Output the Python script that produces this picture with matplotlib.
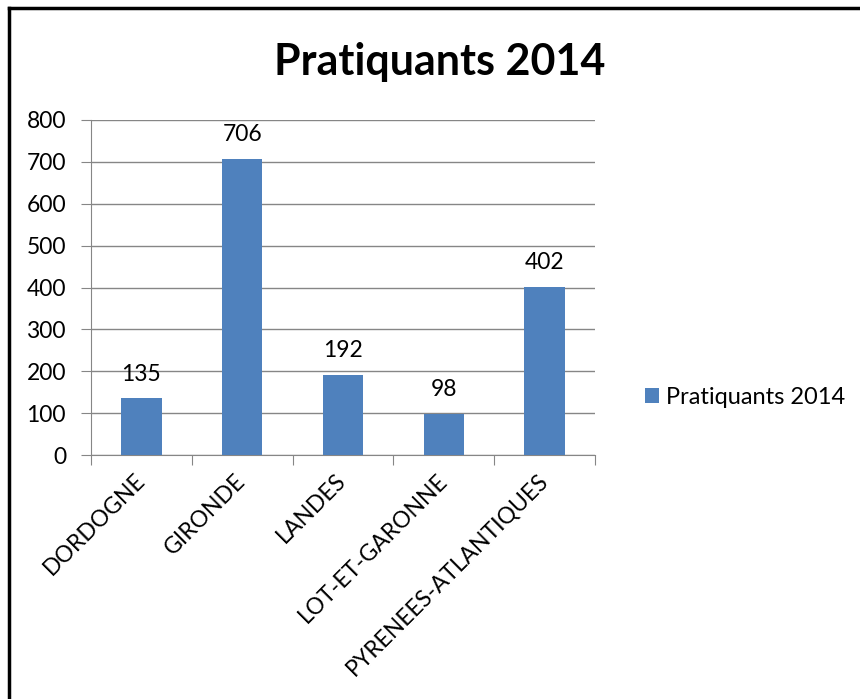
import matplotlib
matplotlib.use('Agg')
import matplotlib.pyplot as plt
from matplotlib.lines import Line2D

# data
departements = ['DORDOGNE', 'GIRONDE', 'LANDES', 'LOT-ET-GARONNE', 'PYRENEES-ATLANTIQUES']
pratiquants = [135, 706, 192, 98, 402]
serie = 'Pratiquants 2014'
y_ticks = [0, 100, 200, 300, 400, 500, 600, 700, 800]

plt.rcParams['font.family'] = ['Lato', 'DejaVu Sans']

fig = plt.figure(figsize=(8.6, 6.99), dpi=100)
ax = fig.add_axes([91/860, 1 - 455/699, (595 - 91)/860, (455 - 120)/699])

x = range(len(departements))
bars = ax.bar(x, pratiquants, width=0.4, color='#4f81bd', label=serie, zorder=3)

# value labels above the bars
for b, v in zip(bars, pratiquants):
    ax.annotate(str(v), (b.get_x() + b.get_width()/2, v), xytext=(0, 10),
                textcoords='offset points', ha='center', va='bottom', fontsize=16.5)

ax.set_xlim(-0.5, len(departements) - 0.5)
ax.set_ylim(0, 800)
ax.set_yticks(y_ticks)
ax.yaxis.grid(True, color='#868686', linewidth=1, zorder=0)

for s in ['top', 'right']:
    ax.spines[s].set_visible(False)
ax.spines['left'].set_color('#868686')
ax.spines['bottom'].set_color('#868686')

# category ticks sit between categories, labels at centres
ax.set_xticks([i - 0.5 for i in range(len(departements) + 1)])
ax.set_xticklabels([])
ax.set_xticks(list(x), minor=True)
ax.set_xticklabels(departements, minor=True, rotation=45, ha='right', va='center',
                   rotation_mode='anchor', fontsize=16.5)
ax.tick_params(axis='x', which='major', length=7, color='#868686', direction='out')
ax.tick_params(axis='x', which='minor', length=0, pad=16)
ax.tick_params(axis='y', length=7, color='#868686', labelsize=16.5, pad=11)

fig.text(440/860, 1 - 62/699, serie, ha='center', va='center', fontsize=31, fontweight='bold')

ax.legend(loc='center left', bbox_to_anchor=(624/860, 1 - 397/699), bbox_transform=fig.transFigure,
          frameon=False, fontsize=17, handlelength=0.6, handleheight=0.6, handletextpad=0.3)

# chart area border (left and top only visible)
fig.add_artist(Line2D([9/860, 9/860], [0, 1 - 8/699], color='black', linewidth=2.5, transform=fig.transFigure))
fig.add_artist(Line2D([9/860, 1], [1 - 8/699, 1 - 8/699], color='black', linewidth=2.5, transform=fig.transFigure))

fig.savefig('out.png', dpi=100)
